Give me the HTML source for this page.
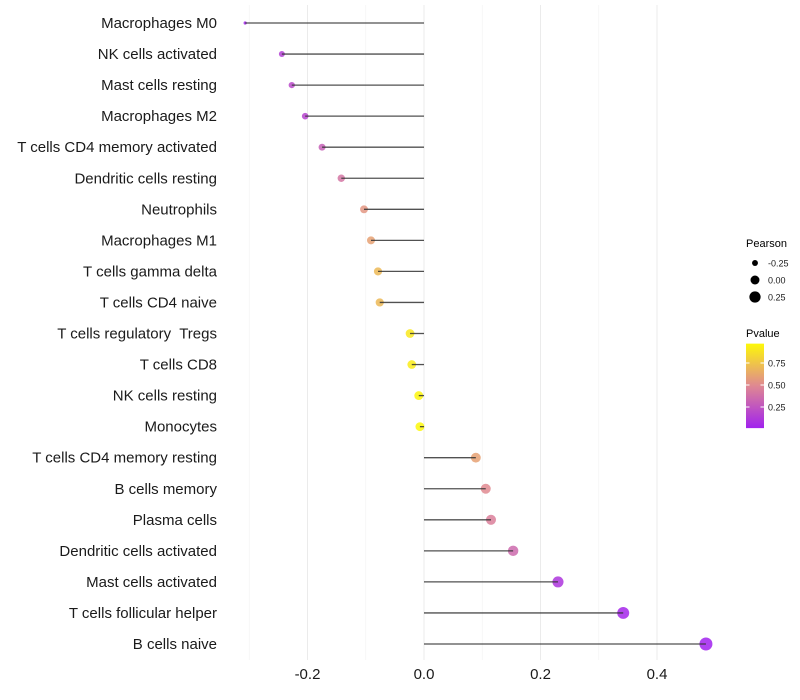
<!DOCTYPE html>
<html><head><meta charset="utf-8"><style>
body{margin:0;background:#fff;}
svg{display:block;font-family:"Liberation Sans",sans-serif;}
text{white-space:pre;}
</style></head><body>
<svg id="chart" width="800" height="700">
<g id="grid"></g>
<g id="pts"></g>
<g id="marks"></g>
<g id="ylabels"></g>
<g id="xlabels"></g>
<g id="legend"></g>
</svg>
<script>
const categories=["Macrophages M0","NK cells activated","Mast cells resting","Macrophages M2","T cells CD4 memory activated","Dendritic cells resting","Neutrophils","Macrophages M1","T cells gamma delta","T cells CD4 naive","T cells regulatory  Tregs","T cells CD8","NK cells resting","Monocytes","T cells CD4 memory resting","B cells memory","Plasma cells","Dendritic cells activated","Mast cells activated","T cells follicular helper","B cells naive"];
const pearson=[-0.307,-0.244,-0.227,-0.204,-0.175,-0.142,-0.103,-0.091,-0.079,-0.076,-0.024,-0.021,-0.009,-0.007,0.089,0.106,0.115,0.153,0.230,0.342,0.484];
const pvalue=[0.02,0.15,0.2,0.17,0.3,0.4,0.55,0.6,0.7,0.7,0.9,0.92,0.96,0.97,0.6,0.5,0.45,0.35,0.1,0.03,0.01];
const xTicks=[-0.2,0.0,0.2,0.4];
const xTickLabels=["-0.2","0.0","0.2","0.4"];
const minorTicks=[-0.3,-0.1,0.1,0.3];
const sizeLegend=[-0.25,0.00,0.25];
const sizeLegendLabels=["-0.25","0.00","0.25"];
const colorLegend=[0.25,0.50,0.75];
const colorLegendLabels=["0.25","0.50","0.75"];

const NS="http://www.w3.org/2000/svg";
const x=v=>424+v*582.5;
const y=i=>23+i*31.05;
const r=v=>v<-0.29?1.6:Math.sqrt(Math.max(2,20.15+45.7*v));
function lerp(a,b,t){return a.map((c,k)=>Math.round(c+(b[k]-c)*t));}
function col(p){
  const s=[[160,32,240],[224,138,144],[255,255,0]];
  const t=Math.max(0,Math.min(1,p));
  const c=t<0.5?lerp(s[0],s[1],t/0.5):lerp(s[1],s[2],(t-0.5)/0.5);
  return `rgb(${c[0]},${c[1]},${c[2]})`;
}
function mk(tag,attrs,parent,text){const e=document.createElementNS(NS,tag);for(const k in attrs)e.setAttribute(k,attrs[k]);if(text!==undefined)e.textContent=text;parent.appendChild(e);return e;}
const grid=document.getElementById('grid'),marks=document.getElementById('marks'),pts=document.getElementById('pts'),yl=document.getElementById('ylabels'),xl=document.getElementById('xlabels'),lg=document.getElementById('legend');
minorTicks.forEach(v=>{const e=mk('line',{x1:x(v),x2:x(v),y1:5,y2:660,stroke:'#f2f2f2','stroke-width':0.6},grid);

});
xTicks.forEach((v,i)=>{const e=mk('line',{x1:x(v),x2:x(v),y1:5,y2:660,stroke:'#ebebeb','stroke-width':1},grid);


const t=mk('text',{x:x(v),y:679,'text-anchor':'middle','font-size':15,fill:'#1a1a1a'},xl,xTickLabels[i]);

});
categories.forEach((c,i)=>{
  const ci=mk('circle',{cx:x(pearson[i]),cy:y(i),r:r(pearson[i]),fill:col(pvalue[i]),'fill-opacity':0.85},pts);
  
  
  const ln=mk('line',{x1:x(0),x2:x(pearson[i]),y1:y(i),y2:y(i),stroke:'#333','stroke-opacity':0.85,'stroke-width':1.3},marks);
  
  
  const t=mk('text',{x:217,y:y(i)+5,'text-anchor':'end','font-size':15,fill:'#1a1a1a'},yl,c);
  
  
});
const pt=mk('text',{x:746,y:247,'font-size':11,fill:'#000'},lg,'Pearson');


sizeLegend.forEach((v,i)=>{const yy=263+i*17;
  const c=mk('circle',{cx:755,cy:yy,r:r(v),fill:'#000'},lg);
  
  
  const t=mk('text',{x:768,y:yy+3.5,'font-size':9,fill:'#1a1a1a'},lg,sizeLegendLabels[i]);
  
  });
const vt=mk('text',{x:746,y:337,'font-size':11,fill:'#000'},lg,'Pvalue');


const py=p=>429-p*88;
const defs=mk('defs',{},lg);
const g=mk('linearGradient',{id:'pg',x1:0,y1:1,x2:0,y2:0},defs);
[0,0.25,0.5,0.75,1].forEach(t=>{const p=0.01+t*0.96;mk('stop',{offset:t,'stop-color':col(p)},g);});
const bar=mk('rect',{x:746,y:py(0.97),width:18,height:py(0.01)-py(0.97),fill:'url(#pg)'},lg);


colorLegend.forEach((v,i)=>{
  mk('line',{x1:746,x2:749.5,y1:py(v),y2:py(v),stroke:'#fff','stroke-width':1},lg);
  mk('line',{x1:760.5,x2:764,y1:py(v),y2:py(v),stroke:'#fff','stroke-width':1},lg);
  const t=mk('text',{x:768,y:py(v)+3.5,'font-size':9,fill:'#1a1a1a'},lg,colorLegendLabels[i]);
  
  });
</script>
</body></html>
